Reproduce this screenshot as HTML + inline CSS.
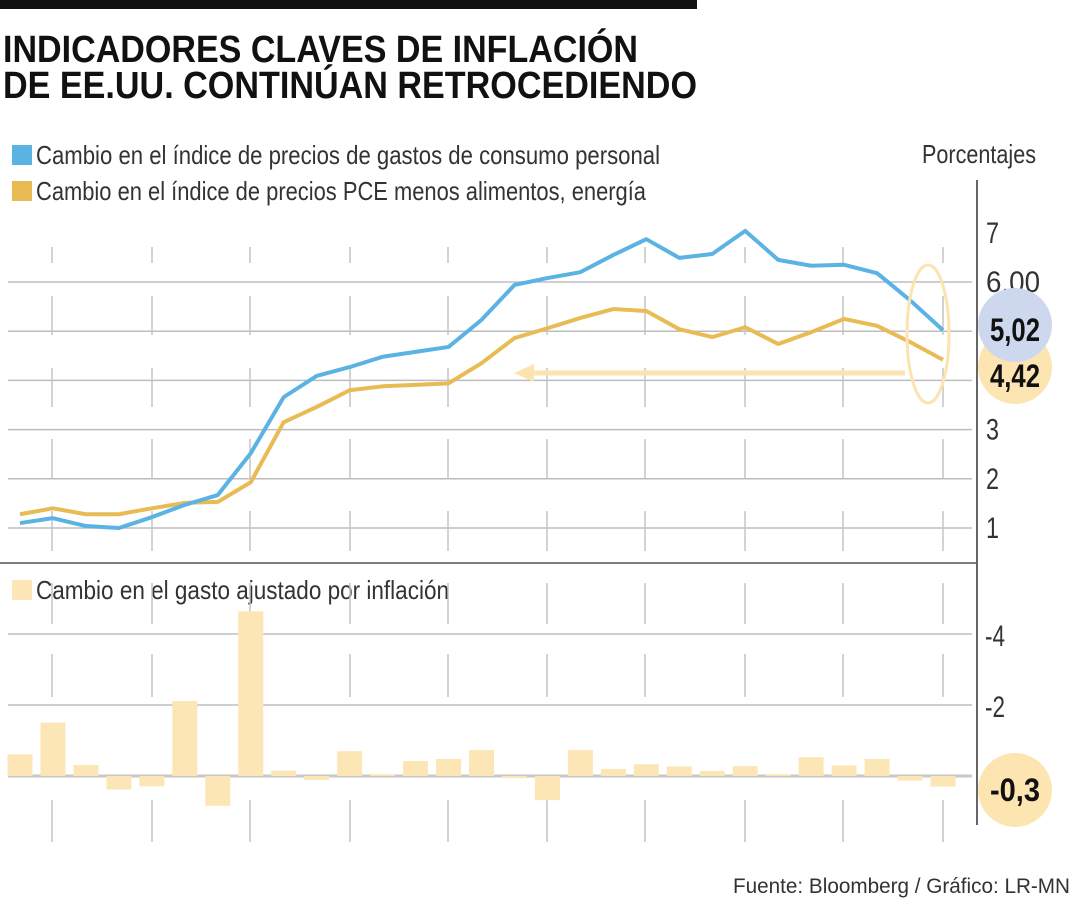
<!DOCTYPE html>
<html><head><meta charset="utf-8"><style>
html,body{margin:0;padding:0;background:#fff;}
svg{display:block;font-family:"Liberation Sans Narrow","Liberation Sans",sans-serif;}
</style></head><body>
<svg id="chart" width="1080" height="900" viewBox="0 0 1080 900" xmlns="http://www.w3.org/2000/svg">
<rect x="0" y="0" width="697" height="9" fill="#111"/>
<text x="3" y="62" font-size="38" font-weight="bold" font-family="Liberation Sans,sans-serif" textLength="635" lengthAdjust="spacingAndGlyphs" fill="#111">INDICADORES CLAVES DE INFLACIÓN</text>
<text x="3" y="98" font-size="38" font-weight="bold" font-family="Liberation Sans,sans-serif" textLength="694" lengthAdjust="spacingAndGlyphs" fill="#111">DE EE.UU. CONTINÚAN RETROCEDIENDO</text>

<rect x="12" y="145" width="20" height="20" fill="#5bb3e3"/>
<text x="36" y="164" font-size="26" fill="#333" textLength="624" lengthAdjust="spacingAndGlyphs">Cambio en el índice de precios de gastos de consumo personal</text>
<rect x="12" y="181" width="20" height="20" fill="#e8bb55"/>
<text x="36" y="200" font-size="26" fill="#333" textLength="610" lengthAdjust="spacingAndGlyphs">Cambio en el índice de precios PCE menos alimentos, energía</text>
<text x="922" y="163" font-size="26" fill="#333" textLength="114" lengthAdjust="spacingAndGlyphs">Porcentajes</text>

<rect x="12" y="580" width="20" height="20" fill="#fde6b6"/>
<text x="36" y="599" font-size="26" fill="#333" textLength="413" lengthAdjust="spacingAndGlyphs">Cambio en el gasto ajustado por inflación</text>

<g id="grid"></g>
<g id="bars"></g>
<g id="lines"></g>
<g id="annot"></g>

<text x="1070" y="893" font-size="21" fill="#333" text-anchor="end" textLength="337" lengthAdjust="spacingAndGlyphs">Fuente: Bloomberg / Gráfico: LR-MN</text>
</svg>
<script>
const months = ["m1","m2","m3","m4","m5","m6","m7","m8","m9","m10","m11","m12","m13","m14","m15","m16","m17","m18","m19","m20","m21","m22","m23","m24","m25","m26","m27","m28","m29"];
const pceValues = [1.10,1.20,1.04,1.00,1.22,1.47,1.67,2.52,3.66,4.09,4.27,4.48,4.58,4.68,5.23,5.94,6.08,6.20,6.55,6.87,6.49,6.57,7.04,6.45,6.33,6.35,6.18,5.63,5.02];
const coreValues = [1.28,1.40,1.28,1.28,1.40,1.51,1.53,1.93,3.15,3.46,3.80,3.88,3.91,3.94,4.35,4.86,5.06,5.27,5.45,5.41,5.04,4.88,5.08,4.74,4.98,5.25,5.11,4.78,4.42];
const spendValues = [0.61,1.50,0.31,-0.38,-0.29,2.11,-0.84,4.64,0.15,-0.11,0.70,0.05,0.42,0.48,0.73,-0.06,-0.68,0.73,0.20,0.33,0.27,0.14,0.28,0.05,0.53,0.30,0.48,-0.13,-0.30];
const topTicks = [7,6,5,4,3,2,1];
const topTickLabels = ["7","6,00","","","3","2","1"];
const bottomTicks = [4,2,0];
const bottomTickLabels = ["-4","-2",""];

const NS = "http://www.w3.org/2000/svg";
function mk(tag, attrs, parent){const e=document.createElementNS(NS,tag);for(const k in attrs)e.setAttribute(k,attrs[k]);parent.appendChild(e);return e;}
const xPos = i => 20 + i*(923/(months.length-1));
const yTop = v => 282 + (6-v)*49.2;
const yBot = v => 776 - v*35.5;

const grid=document.getElementById('grid'), bars=document.getElementById('bars'), lines=document.getElementById('lines'), annot=document.getElementById('annot');

// top grid
topTicks.forEach((t,i)=>{
  if(t!==7){const l=mk('line',{x1:8,x2:972,y1:yTop(t),y2:yTop(t),stroke:'#bdbdbd','stroke-width':1.5},grid);
  
  }
  const lab=topTickLabels[i];
  if(lab){const tx=mk('text',{x:986,y:yTop(t)+10,'font-size':30,fill:'#333',textLength:lab.length>1?54:13,lengthAdjust:'spacingAndGlyphs'},grid);tx.textContent=lab;
  
  }
});
// vertical tick segments
const vx=[52,152,250,350,448,547,645,745,843,943];
const segsTop=[[247,263],[296,335],[368,407],[439,479],[511,551]];
const segsBot=[[583,624],[654,697],[800,842]];
vx.forEach(x=>{segsTop.concat(segsBot).forEach(s=>{const l=mk('line',{x1:x,x2:x,y1:s[0],y2:s[1],stroke:'#c4c4c4','stroke-width':1.5},grid);
  
  });});
// bottom grid
bottomTicks.forEach((t,i)=>{
  const l=mk('line',{x1:8,x2:972,y1:yBot(t),y2:yBot(t),stroke:t===0?'#c8c8c8':'#bdbdbd','stroke-width':t===0?3:1.5},grid);
  
  
  if(bottomTickLabels[i]){const tx=mk('text',{x:985,y:yBot(t)+12,'font-size':30,fill:'#333',textLength:20,lengthAdjust:'spacingAndGlyphs'},grid);tx.textContent=bottomTickLabels[i];
  
  }
});
// axes
let a=mk('line',{x1:977,x2:977,y1:180,y2:825,stroke:'#333','stroke-width':1.5},grid);


a=mk('line',{x1:0,x2:977,y1:563,y2:563,stroke:'#555','stroke-width':1.5},grid);



// bars
spendValues.forEach((v,i)=>{
  const y0=yBot(0), y1=yBot(v);
  const r=mk('rect',{x:xPos(i)-12.5,width:25,y:Math.min(y0,y1),height:Math.max(1.5,Math.abs(y1-y0)),fill:'#fde6b6'},bars);
  
  
});

// lines
function line(vals,color,name){
  const p=mk('polyline',{points:vals.map((v,i)=>xPos(i)+','+yTop(v)).join(' '),fill:'none',stroke:color,'stroke-width':4,'stroke-linejoin':'round'},lines);
  
  
}
line(coreValues,'#e8bb55','line-core-pce');
line(pceValues,'#5bb3e3','line-pce');

// annotations
let e=mk('ellipse',{cx:928,cy:334,rx:21,ry:69,fill:'none',stroke:'#fbe4b0','stroke-width':3},annot);


e=mk('line',{x1:905,x2:530,y1:373,y2:373,stroke:'#fbe4b0','stroke-width':5},annot);


e=mk('polygon',{points:'514,373 534,364 534,382',fill:'#fbe4b0'},annot);


function bubble(cx,cy,r,fill,name){
  const c=mk('circle',{cx:cx,cy:cy,r:r,fill:fill},annot);
  
  
}
function blabel(cx,y,label,name){
  const t=mk('text',{x:cx,y:y,'font-size':32,'font-weight':'bold','text-anchor':'middle',fill:'#111',textLength:label.length*12.5,lengthAdjust:'spacingAndGlyphs'},annot);t.textContent=label;
  
  
}
bubble(1015,367,37,'#fce5b0','core-bubble');
bubble(1015,325,37,'#cdd8ee','pce-bubble');
blabel(1015,341,pceValues[pceValues.length-1].toFixed(2).replace('.',','),'pce-value-label');
blabel(1015,387,coreValues[coreValues.length-1].toFixed(2).replace('.',','),'core-value-label');
bubble(1015,790,37,'#fce5b0','spend-bubble');
blabel(1015,801,spendValues[spendValues.length-1].toFixed(1).replace('.',','),'spend-value-label');
</script>
</body></html>
